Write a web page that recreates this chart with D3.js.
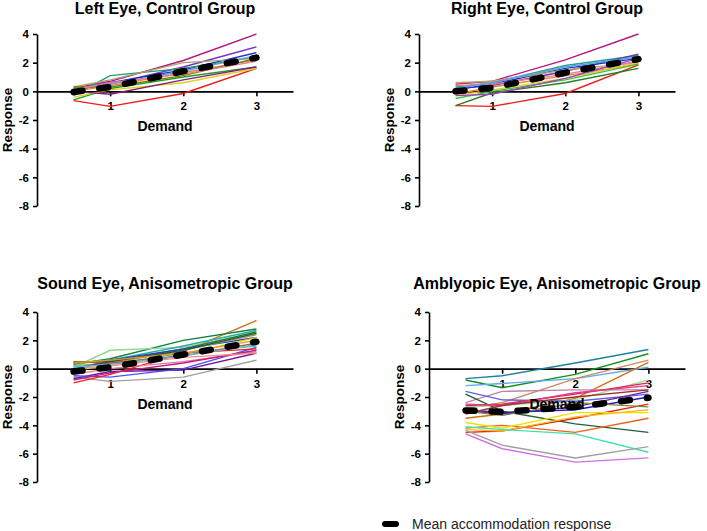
<!DOCTYPE html>
<meta charset="utf-8">
<script src="https://d3js.org/d3.v7.min.js"></script>
<style>
  body { margin: 0; background: #fff; }
  svg { font-family: "Liberation Sans", Arial, sans-serif; }
  .axis path, .axis line { stroke: #000; stroke-width: 1.6px; }
  .axis text { font-size: 11.5px; font-weight: bold; fill: #000; }
  .title { font-size: 16px; font-weight: bold; }
  .label { font-size: 14px; font-weight: bold; }
</style>
<div id="chart"></div>
<script>

// demand levels (x values)
var demand = [0.5, 1, 2, 3];
var yTicks = [4, 2, 0, -2, -4, -6, -8];
var xTicks = [1, 2, 3];

// individual responses, one row per subject
var leftControl = [
  [-0.65, -1.05, -0.15, 1.6],
  [0.2, 0.7, 2.15, 4.0],
  [0.1, 0.5, 1.7, 3.1],
  [0.1, 0.6, 1.5, 2.7],
  [-0.3, 1.1, 1.6, 2.4],
  [0.3, 0.8, 2.0, 2.3],
  [0.0, 0.4, 1.3, 2.2],
  [-0.6, 0.2, 1.0, 1.7],
  [-0.4, 0.1, 0.6, 1.6],
  [0.0, -0.2, 0.8, 1.7],
  [0.2, 0.5, 1.4, 2.5],
  [0.3, 0.3, 1.1, 2.3],
  [0.1, 0.6, 1.2, 2.1]
];
var leftControlMean = [-0.05, 0.3, 1.4, 2.35];

var rightControl = [
  [-1.0, -1.05, -0.15, 1.85],
  [0.5, 0.7, 2.2, 4.0],
  [-1.0, -0.1, 0.6, 1.6],
  [0.3, 0.6, 1.8, 2.5],
  [0.2, 0.4, 1.4, 2.6],
  [0.1, 0.5, 1.6, 2.3],
  [0.6, 0.7, 1.5, 2.0],
  [-0.2, 0.3, 1.1, 1.9],
  [-0.3, 0.1, 0.9, 2.0],
  [-0.5, 0.0, 0.8, 1.9],
  [0.4, 0.5, 1.2, 2.1],
  [-0.3, -0.2, 0.9, 2.3],
  [0.2, 0.6, 1.7, 2.4]
];
var rightControlMean = [0.0, 0.25, 1.3, 2.25];

var soundAniso = [
  [0.5, 0.5, 1.2, 3.4],
  [0.3, 0.7, 2.0, 2.8],
  [0.1, 1.3, 1.5, 2.5],
  [0.4, 0.6, 1.6, 2.7],
  [0.4, 0.5, 1.4, 2.6],
  [-0.1, 0.6, 1.4, 2.2],
  [0.2, 0.4, 1.3, 2.4],
  [-0.1, 0.2, 1.0, 2.2],
  [-0.6, -0.9, -0.6, 0.6],
  [-0.7, -0.2, -0.1, 1.1],
  [-0.5, -0.6, 0.0, 1.5],
  [-1.0, -0.4, 1.1, 1.4],
  [-0.4, 0.0, 0.5, 1.2],
  [-0.8, -0.3, 0.4, 1.3],
  [0.0, 0.2, 0.8, 1.1],
  [0.2, 0.3, 1.1, 1.6],
  [0.5, 0.4, 0.9, 1.8],
  [0.0, 0.5, 1.3, 2.5],
  [0.4, 0.6, 1.1, 2.0],
  [0.1, 0.3, 0.9, 1.7]
];
var soundAnisoMean = [-0.2, 0.1, 1.0, 1.9];

var amblyAniso = [
  [-0.7, -0.5, 0.4, 1.35],
  [-0.8, -1.35, -0.4, 1.05],
  [-1.2, -1.05, -0.7, 0.1],
  [-2.8, -2.4, -0.7, 0.6],
  [-3.5, -3.2, -2.1, 0.45],
  [-2.4, -1.6, -1.5, -1.5],
  [-2.7, -2.6, -2.2, -0.8],
  [-1.6, -2.2, -2.3, -1.8],
  [-1.8, -3.0, -3.9, -4.5],
  [-2.6, -2.5, -1.8, -1.0],
  [-4.5, -4.4, -3.5, -2.5],
  [-4.2, -4.0, -4.5, -3.5],
  [-3.8, -4.2, -3.1, -3.1],
  [-4.3, -4.4, -3.4, -2.9],
  [-4.1, -4.3, -4.6, -5.9],
  [-4.35, -5.4, -6.3, -5.5],
  [-4.6, -5.65, -6.6, -6.3],
  [-3.0, -3.2, -2.7, -1.6],
  [-2.9, -3.1, -2.9, -2.0],
  [-2.5, -2.6, -1.7, -1.2],
  [-3.2, -2.6, -2.0, -1.5],
  [-3.0, -3.3, -2.4, -2.7]
];
var amblyAnisoMean = [-2.95, -3.05, -2.7, -2.05];

// line colours per panel
var leftColors = ["#ee1c1c", "#b5177f", "#7b2fbf", "#1f2fcf", "#17a070", "#b0a070", "#f08030",
                  "#20a020", "#e0d020", "#802080", "#60a0e0", "#808000", "#e080a0"];
var rightColors = ["#ee1c1c", "#b5177f", "#208020", "#20a090", "#7030a0", "#2030d0", "#c0a060",
                   "#f08030", "#e0d020", "#40c040", "#e080a0", "#a040c0", "#60a0e0"];
var soundColors = ["#d07020", "#108040", "#90d890", "#20b0a0", "#208020", "#2040d0", "#a0a040",
                   "#e0d000", "#a0a0a0", "#7010a0", "#5050f0", "#f02020", "#f070a0", "#c02080",
                   "#f09080", "#40d0a0", "#a06030", "#305050", "#f09020", "#70b0f0"];
var amblyColors = ["#2080a0", "#109020", "#60a8f0", "#c09060", "#d07010", "#c080b0", "#a0e0a0",
                   "#6060e0", "#206040", "#e02060", "#f02010", "#f06010", "#f0e000", "#f0c020",
                   "#40e0b0", "#a0a0a0", "#d070e0", "#7020a0", "#2020c0", "#e04080", "#a03030",
                   "#808040"];

var panels = [
  {title: "Left Eye, Control Group", rows: leftControl, mean: leftControlMean, colors: leftColors,
   x0: 37, top: 34, bottom: 206, titleY: 14},
  {title: "Right Eye, Control Group", rows: rightControl, mean: rightControlMean, colors: rightColors,
   x0: 419, top: 34, bottom: 206, titleY: 14},
  {title: "Sound Eye, Anisometropic Group", rows: soundAniso, mean: soundAnisoMean, colors: soundColors,
   x0: 37, top: 312, bottom: 482, titleY: 289},
  {title: "Amblyopic Eye, Anisometropic Group", rows: amblyAniso, mean: amblyAnisoMean, colors: amblyColors,
   x0: 429, top: 312, bottom: 482, titleY: 289}
];

var svg = d3.select("#chart").append("svg")
    .attr("width", 707)
    .attr("height", 531);

panels.forEach(function(p) {
  var x = d3.scaleLinear().domain([0, 3.5]).range([p.x0, p.x0 + 256]);
  var y = d3.scaleLinear().domain([-8, 4]).range([p.bottom, p.top]);
  var g = svg.append("g");

  g.append("g")
    .attr("class", "axis")
    .attr("transform", "translate(" + p.x0 + ",0)")
    .call(d3.axisLeft(y).tickValues(yTicks).tickSize(4).tickSizeOuter(0).tickPadding(4)
      .tickFormat(function(d) { return String(d); }));

  g.append("g")
    .attr("class", "axis")
    .attr("transform", "translate(0," + y(0) + ")")
    .call(d3.axisBottom(x).tickValues(xTicks).tickSize(5).tickSizeOuter(0).tickPadding(6)
      .tickFormat(function(d) { return String(d); }));

  var line = d3.line()
    .x(function(d, i) { return x(demand[i]); })
    .y(function(d) { return y(d); });

  g.selectAll(".subject")
    .data(p.rows)
    .enter()
    .append("path")
      .attr("class", "subject")
      .attr("d", line)
      .attr("fill", "none")
      .attr("stroke", function(d, i) { return p.colors[i % p.colors.length]; })
      .attr("stroke-width", 1.4);

  // titles and axis labels
  g.append("text")
    .attr("class", "title")
    .attr("x", p.x0 + 128)
    .attr("y", p.titleY)
    .attr("text-anchor", "middle")
    .text(p.title);

  g.append("text")
    .attr("class", "label")
    .attr("x", x(1.75))
    .attr("y", y(0) + 40)
    .attr("text-anchor", "middle")
    .text("Demand");

  g.append("text")
    .attr("class", "label")
    .attr("transform", "translate(" + (p.x0 - 25) + "," + y(-2) + ")rotate(-90)")
    .attr("text-anchor", "middle")
    .style("font-size", "13.5px")
    .text("Response");

  // mean response
  g.append("path")
    .datum(p.mean)
    .attr("d", line)
    .attr("fill", "none")
    .attr("stroke", "#000")
    .attr("stroke-width", 6.5)
    .attr("stroke-linecap", "round")
    .attr("stroke-dasharray", "9,17");
});

// legend
var legend = svg.append("g");
legend.append("line")
  .attr("x1", 385).attr("x2", 396)
  .attr("y1", 524).attr("y2", 524)
  .attr("stroke", "#000")
  .attr("stroke-width", 6)
  .attr("stroke-linecap", "round");
legend.append("text")
  .attr("x", 412)
  .attr("y", 529)
  .style("font-size", "14px")
  .attr("fill", "#222")
  .text("Mean accommodation response");

</script>
